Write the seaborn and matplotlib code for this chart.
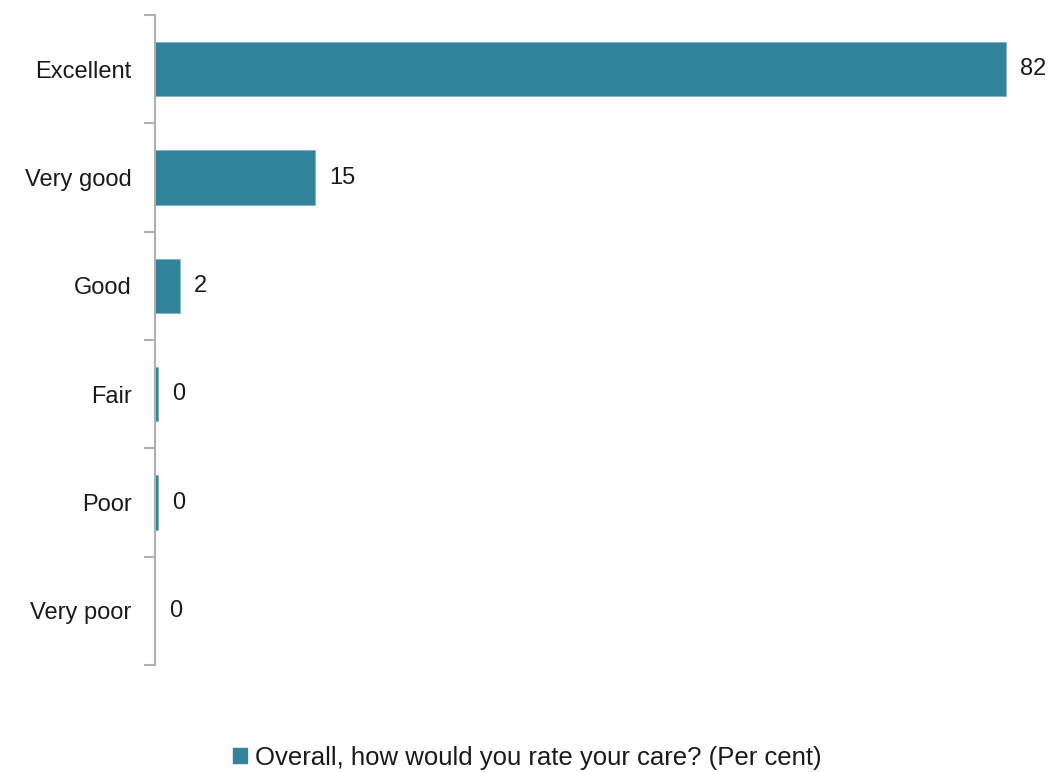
import matplotlib
matplotlib.use("Agg")
import matplotlib.pyplot as plt
import seaborn as sns
import pandas as pd
from matplotlib.patches import Patch
from matplotlib.ticker import FixedLocator

categories = ["Excellent", "Very good", "Good", "Fair", "Poor", "Very poor"]
values = [82.0, 15.4, 2.4, 0.3, 0.3, 0.0]
series_name = "Overall, how would you rate your care? (Per cent)"

BAR = "#31849B"
AXC = "#B0B0B0"

sns.set_theme(style="white")
plt.rcParams["font.family"] = ["Liberation Sans", "DejaVu Sans"]

df = pd.DataFrame({"category": categories, "value": values})

fig = plt.figure(figsize=(10.54, 7.72), dpi=100)
ax = fig.add_axes([155 / 1054, 1 - 665 / 772, (1048 - 155) / 1054, (665 - 15) / 772])

sns.barplot(data=df, y="category", x="value", orient="h", color=BAR,
            width=0.5, saturation=1, ax=ax, edgecolor="#7FB3C3", linewidth=0.6)

ax.set_xlim(0, 86)
n = len(categories)
ax.set_ylim(n - 0.5, -0.5)

for s in ["top", "right", "bottom"]:
    ax.spines[s].set_visible(False)
ax.spines["left"].set_color(AXC)
ax.spines["left"].set_linewidth(1.5)
ax.set_xticks([])
ax.set_xlabel("")
ax.set_ylabel("")

# ticks at category boundaries, labels at centres
ax.yaxis.set_major_locator(FixedLocator([i - 0.5 for i in range(n + 1)]))
ax.yaxis.set_minor_locator(FixedLocator(list(range(n))))
ax.set_yticklabels([""] * (n + 1))
ax.set_yticklabels(categories, minor=True)
ax.tick_params(axis="y", which="major", length=8, width=1.5, color=AXC, left=True, direction="out")
ax.tick_params(axis="y", which="minor", length=0, pad=17, labelsize=17, labelcolor="#1a1a1a")

ax.bar_label(ax.containers[0], labels=[f"{v:.0f}" for v in values], padding=10,
             fontsize=17, color="#1a1a1a")

fig.legend(handles=[Patch(facecolor=BAR, edgecolor=BAR)], labels=[series_name],
           loc="lower center", bbox_to_anchor=(0.5, -0.027), frameon=False,
           fontsize=18.5, handlelength=0.55, handleheight=0.55, handletextpad=0.3,
           labelcolor="#1a1a1a")

fig.savefig("out.png", dpi=100, facecolor="white")
